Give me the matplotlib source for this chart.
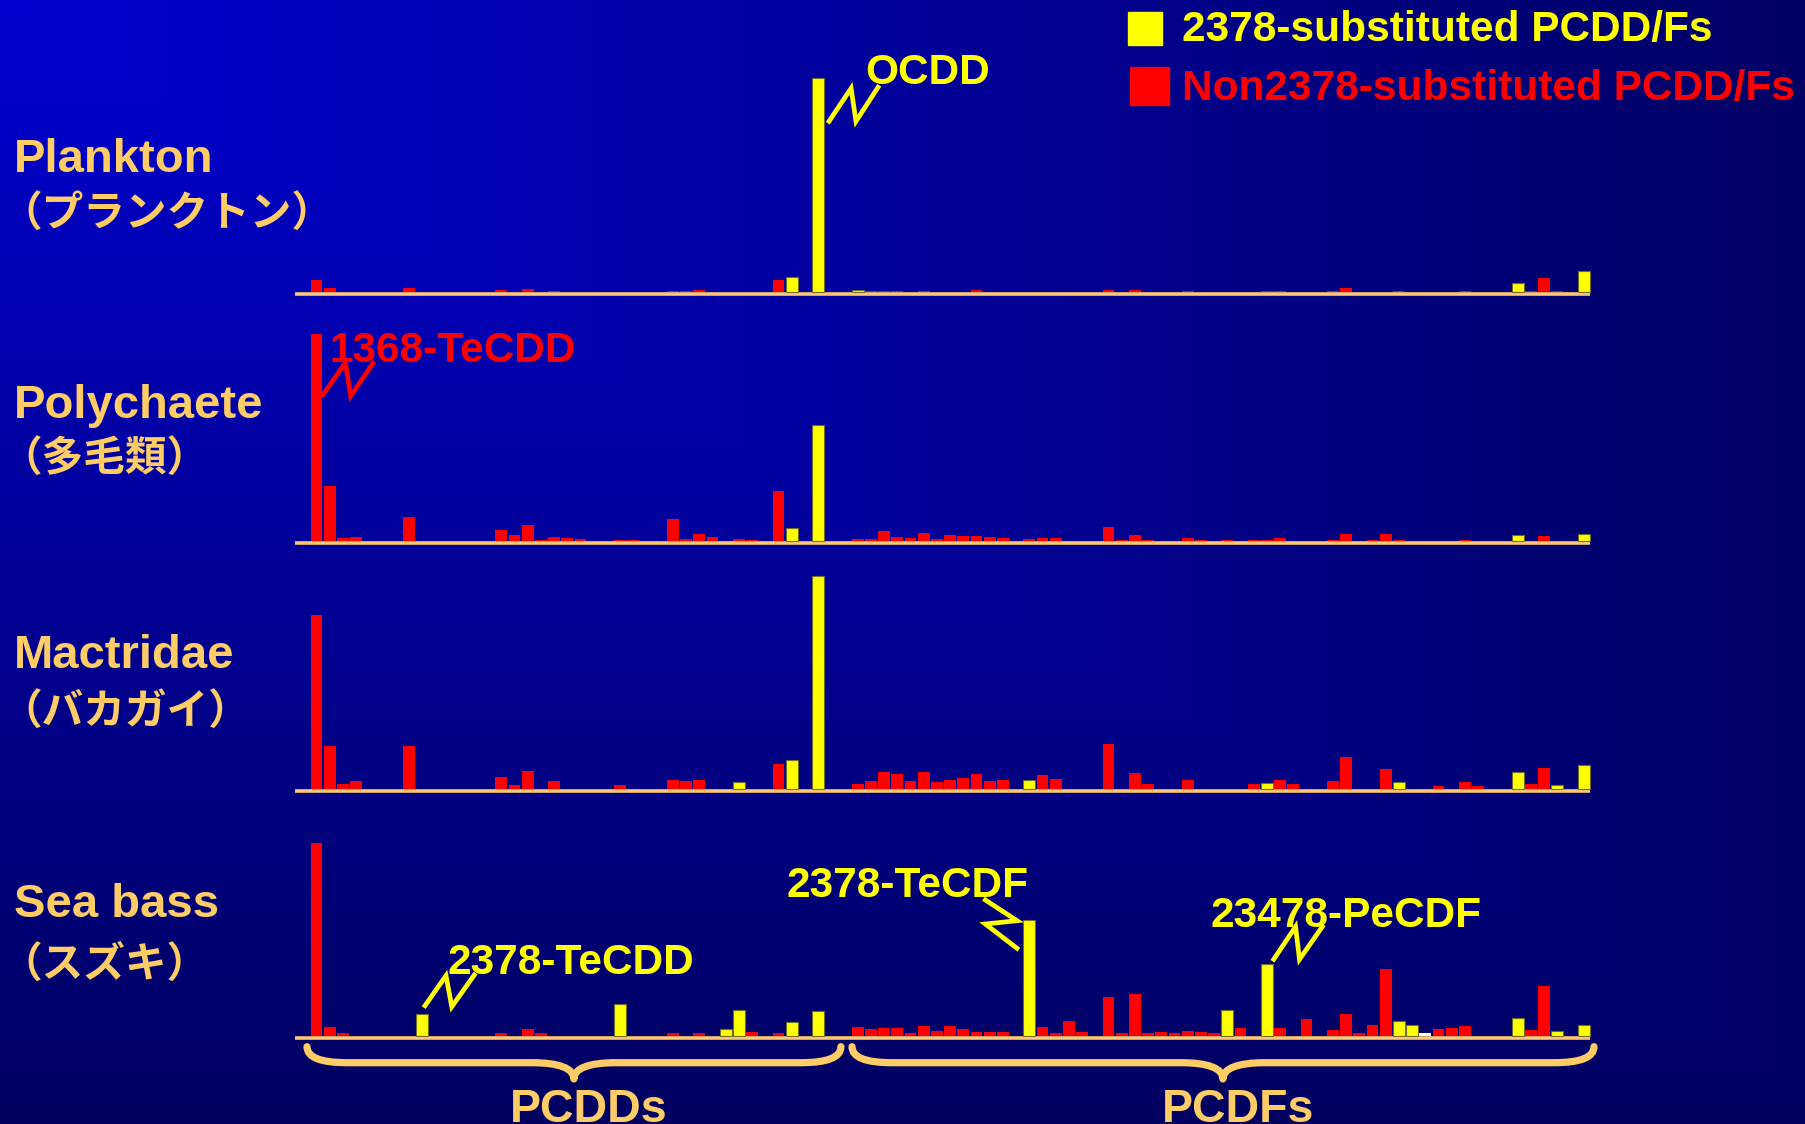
import numpy as np
import matplotlib
matplotlib.use("Agg")
import matplotlib.pyplot as plt
from matplotlib.path import Path
from matplotlib.patches import PathPatch, Rectangle

# ---------------- data (relative peak heights) ----------------
species = ["Plankton", "Polychaete", "Mactridae", "Sea bass"]
species_ja = ["（プランクトン）", "（多毛類）", "（バカガイ）", "（スズキ）"]
legend_labels = ["2378-substituted PCDD/Fs", "Non2378-substituted PCDD/Fs"]
group_labels = ["PCDDs", "PCDFs"]

plankton_slot = [0, 1, 3, 7, 14, 16, 18, 27, 28, 29, 35, 36, 38,
                 41, 42, 43, 44, 46, 48, 49, 50, 52, 55, 56, 60, 61, 62, 66, 68,
                 72, 73, 77, 78, 82, 87, 91, 92, 93, 94, 96]
plankton_val = [12.3, 4.3, 0.8, 4.3, 2.3, 3.3, 1.3, 1.3, 1.3, 2.3, 12.3, 15.7, 214,
                2.3, 1.3, 1.3, 1.3, 1.3, 0.8, 0.8, 2.3, 0.8, 0.8, 0.8, 2.3, 0.8, 2.3, 1.3, 0.8,
                1.3, 1.3, 1.3, 4.3, 1.3, 1.3, 9.0, 1.3, 14.3, 1.3, 21.7]
plankton_2378 = [36, 38, 41, 91, 96]
plankton_other = []

polychaete_slot = [0, 1, 2, 3, 7, 14, 15, 16, 17, 18, 19, 20, 23, 24, 27, 28, 29, 30, 32, 33, 35, 36, 38,
                   41, 42, 43, 44, 45, 46, 47, 48, 49, 50, 51, 52, 54, 55, 56, 60, 61, 62, 63,
                   66, 67, 69, 71, 72, 73, 77, 78, 80, 81, 82, 87, 91, 93, 96]
polychaete_val = [206.7, 54.7, 2.7, 3.7, 23.7, 10.7, 5.7, 15.7, 0.7, 3.7, 2.7, 1.7, 0.7, 0.7, 21.7, 1.7,
                  6.7, 3.7, 1.7, 0.7, 49.7, 12.7, 115.3,
                  1.7, 1.7, 9.7, 3.7, 2.7, 7.7, 1.7, 5.7, 4.7, 4.7, 3.7, 2.7, 1.7, 2.7, 2.7, 13.7, 0.7,
                  5.7, 0.7, 2.7, 0.7, 0.7, 0.7, 0.7, 2.7, 0.7, 6.7, 0.7, 6.7, 0.7, 0.7, 5.7, 4.7, 6.7]
polychaete_2378 = [36, 38, 91, 96]
polychaete_other = []

mactridae_slot = [0, 1, 2, 3, 7, 14, 15, 16, 18, 23, 27, 28, 29, 32, 35, 36, 38,
                  41, 42, 43, 44, 45, 46, 47, 48, 49, 50, 51, 52, 54, 55, 56, 60, 62, 63, 66,
                  71, 72, 73, 74, 77, 78, 81, 82, 85, 87, 88, 91, 92, 93, 94, 96]
mactridae_val = [174, 43, 5, 8, 43, 12, 4, 18, 8, 4, 9, 8, 9, 7, 25, 29, 213,
                 5, 8, 17, 15, 8, 17, 7, 9, 11, 15, 8, 9, 9, 14, 10, 45, 16, 5, 9,
                 5, 6.3, 9, 5, 8, 32, 20, 7, 3, 7, 3, 17, 5, 21, 4, 24]
mactridae_2378 = [32, 36, 38, 54, 72, 82, 91, 94, 96]
mactridae_other = []

seabass_slot = [0, 1, 2, 8, 14, 16, 17, 23, 27, 29, 31, 32, 33, 35, 36, 38,
                41, 42, 43, 44, 45, 46, 47, 48, 49, 50, 51, 52, 54, 55, 56, 57, 58,
                60, 61, 62, 63, 64, 65, 66, 67, 68, 69, 70, 72, 73, 75, 77, 78, 79, 80,
                81, 82, 83, 84, 85, 86, 87, 91, 92, 93, 94, 96]
seabass_val = [192.7, 9, 3, 22, 3, 7, 3, 32, 3, 3, 7, 25.7, 4, 3, 14.3, 24.7,
               8.7, 6.7, 8, 7.7, 2.7, 10, 4.7, 10.3, 7.3, 3.7, 3.7, 3.7, 115.7, 8.7, 2.7, 14.7, 3.7,
               39, 2.7, 41.7, 3.3, 3.7, 3.3, 5.3, 3.7, 2.7, 25.7, 8, 71.7, 8, 16.7, 5.7, 21.7, 2.7, 10.7,
               66.7, 15.3, 10.7, 2.7, 6.7, 7.7, 9.7, 18, 5.7, 49.7, 4.7, 10.7]
seabass_2378 = [8, 23, 31, 32, 36, 38, 54, 69, 72, 82, 83, 91, 94, 96]
seabass_other = [84]   # unlabelled (white) peak

panels = [
    (plankton_slot, plankton_val, plankton_2378, plankton_other),
    (polychaete_slot, polychaete_val, polychaete_2378, polychaete_other),
    (mactridae_slot, mactridae_val, mactridae_2378, mactridae_other),
    (seabass_slot, seabass_val, seabass_2378, seabass_other),
]

# annotations: (panel, slot, label, kind)
annotations = [
    (0, 38, "OCDD", "Y"),
    (1, 0, "1368-TeCDD", "R"),
    (3, 8, "2378-TeCDD", "Y"),
    (3, 54, "2378-TeCDF", "Y"),
    (3, 72, "23478-PeCDF", "Y"),
]

# ---------------- layout & style ----------------
W, H, DPI = 1806, 1124, 100
YEL, RED, WHT = "#FFFF00", "#FF0000", "#FFFFFF"
PEACH = "#FFCC66"
AXIS_C = "#FFC86E"
EN = ["Liberation Sans", "DejaVu Sans"]
JA = ["Noto Sans CJK JP", "DejaVu Sans"]
kind_color = {"Y": YEL, "R": RED, "W": WHT}
kind_edge = {"Y": "#6e6e2a", "R": "none", "W": "none"}

baselines = [292.3, 540.7, 789.0, 1036.0]
ax_x0, ax_x1 = 295, 1590
slot0_px, slot_px = 316.5, 13.2
panel_h = 230
xlim = ((ax_x0 - slot0_px) / slot_px, (ax_x1 - slot0_px) / slot_px)

label_baseline = [172, 418, 668, 917]
ja_center = [215, 460, 713, 965]

ann_geom = {
    "OCDD": ([0.83, 2.5, 2.87, 4.54], [-43, -10, -43, -9], (3.55, -6)),
    "1368-TeCDD": ([0.48, 2.19, 2.59, 4.27], [-61, -28.7, -62, -29.3], (0.95, -28)),
    "2378-TeCDD": ([0.22, 1.81, 2.25, 3.95], [8.3, 38.3, 7.3, 39], (1.89, 40)),
    "2378-TeCDF": ([-3.33, -0.93, -3.33, -0.93], [20.3, -0.4, -3.7, -28], (-18.36, 23.3)),
    "23478-PeCDF": ([0.52, 2.17, 2.47, 4.2], [5, 37.6, 5, 37.6], (-4.3, 37.3)),
}


def fx(x):
    return x / W


def fy(y):
    return 1 - y / H


fig = plt.figure(figsize=(W / DPI, H / DPI), dpi=DPI)

# background gradient
bg = fig.add_axes([0, 0, 1, 1])
bg.axis("off")
u = np.linspace(0, 1, 400)
v = np.linspace(0, 1, 260)
U, V = np.meshgrid(u, v)
d = np.maximum(U * 0.97, V)
blue = (208 - 112 * d) / 255.0
img = np.dstack([np.zeros_like(blue), np.zeros_like(blue), blue])
bg.imshow(img, extent=[0, 1, 0, 1], aspect="auto", interpolation="bilinear")
bg.set_xlim(0, 1)
bg.set_ylim(0, 1)

axes = []
for i, (slots, vals, sub2378, other) in enumerate(panels):
    kinds = ["Y" if s in sub2378 else ("W" if s in other else "R") for s in slots]
    bl = baselines[i]
    ax = fig.add_axes([fx(ax_x0), fy(bl), (ax_x1 - ax_x0) / W, panel_h / H])
    ax.set_xlim(*xlim)
    ax.set_ylim(0, panel_h)
    ax.axis("off")
    ax.patch.set_alpha(0)
    cols = [kind_color[k] for k in kinds]
    edges = [kind_edge[k] for k in kinds]
    ax.bar(slots, vals, width=0.88, color=cols, edgecolor=edges, linewidth=0.8,
           zorder=3, clip_on=False)
    ax.axhline(-1.8, color=AXIS_C, lw=2.6, clip_on=False, zorder=2,
               solid_capstyle="butt")
    axes.append(ax)
    fig.text(fx(14), fy(label_baseline[i]), species[i], color=PEACH, fontsize=34,
             fontweight="bold", family=EN, ha="left", va="baseline")
    fig.text(fx(0), fy(ja_center[i]), species_ja[i], color=PEACH, fontsize=30,
             fontweight="bold", family=JA, ha="left", va="center")

# annotations
for (pi, s, label, kind) in annotations:
    ax = axes[pi]
    slots, vals = panels[pi][0], panels[pi][1]
    top = vals[slots.index(s)]
    zx, zy, (lx, ly) = ann_geom[label]
    c = kind_color[kind]
    ax.plot([s + dx for dx in zx], [top + dy for dy in zy], color=c, lw=3.4,
            clip_on=False, zorder=5, solid_joinstyle="miter")
    ax.text(s + lx, top + ly, label, color=c, fontsize=30.5, fontweight="bold",
            family=EN, ha="left", va="baseline", zorder=6, clip_on=False)

# legend
fig.patches.append(Rectangle((fx(1128), fy(45)), 34 / W, 33 / H, color=YEL,
                             transform=fig.transFigure, figure=fig))
fig.patches.append(Rectangle((fx(1130), fy(105)), 39 / W, 38 / H, color=RED,
                             transform=fig.transFigure, figure=fig))
fig.text(fx(1182), fy(41), legend_labels[0], color=YEL, fontsize=30.5,
         fontweight="bold", family=EN, ha="left", va="baseline")
fig.text(fx(1182), fy(100), legend_labels[1], color=RED, fontsize=30.5,
         fontweight="bold", family=EN, ha="left", va="baseline")

# braces under the bottom panel
bax = axes[-1]


def brace(ax, x0, x1, xm, yend, yline, ytip, r_end, r_tip):
    verts = [
        (x0, yend),
        (x0, yline), (x0 + r_end, yline),
        (xm - r_tip, yline),
        (xm - 0.35 * r_tip, yline), (xm, yline + 0.35 * (ytip - yline)), (xm, ytip),
        (xm, yline + 0.35 * (ytip - yline)), (xm + 0.35 * r_tip, yline), (xm + r_tip, yline),
        (x1 - r_end, yline),
        (x1, yline), (x1, yend),
    ]
    codes = [Path.MOVETO,
             Path.CURVE3, Path.CURVE3,
             Path.LINETO,
             Path.CURVE4, Path.CURVE4, Path.CURVE4,
             Path.CURVE4, Path.CURVE4, Path.CURVE4,
             Path.LINETO,
             Path.CURVE3, Path.CURVE3]
    p = PathPatch(Path(verts, codes), facecolor="none", edgecolor=PEACH, lw=5.2,
                  capstyle="round", joinstyle="round", clip_on=False, zorder=4)
    ax.add_patch(p)


r_end = 40 / slot_px
r_tip = 42 / slot_px
brace(bax, -0.72, 39.73, 19.5, -10.7, -26.7, -43, r_end, r_tip)
brace(bax, 40.57, 96.78, 68.67, -10.7, -26.7, -43, r_end, r_tip)
bax.text(20.6, -85.5, group_labels[0], color=PEACH, fontsize=33.5, fontweight="bold",
         family=EN, ha="center", va="baseline", clip_on=False)
bax.text(69.8, -85.5, group_labels[1], color=PEACH, fontsize=33.5, fontweight="bold",
         family=EN, ha="center", va="baseline", clip_on=False)

fig.savefig("out.png", dpi=DPI)
